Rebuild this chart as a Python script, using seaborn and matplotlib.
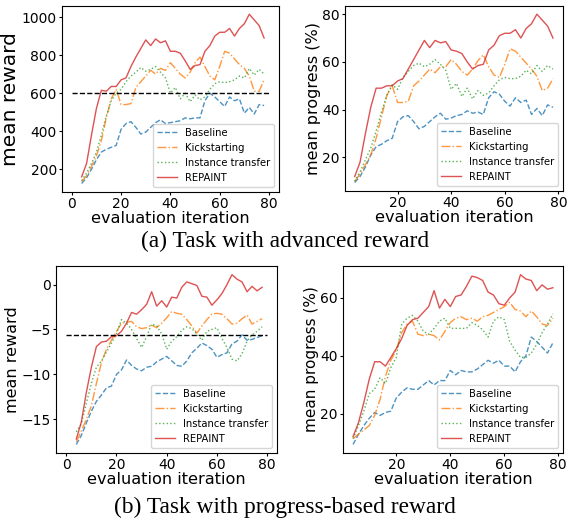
import numpy as np
import matplotlib
matplotlib.use("Agg")
import matplotlib.pyplot as plt
import pandas as pd
import seaborn as sns

# evaluation iterations (every 2nd one)
iters = list(range(4, 80, 2))

# (a) advanced reward -- mean reward
a_reward_baseline = [125, 155, 200, 250, 290, 305, 315, 325, 410, 440, 450, 420, 385, 395, 420, 445, 460, 440, 445,
                     450, 455, 470, 465, 470, 470, 560, 600, 580, 555, 530, 580, 560, 570, 495, 525, 490, 540, 535]
a_reward_kick = [135, 165, 215, 270, 350, 470, 570, 620, 540, 540, 545, 630, 660, 690, 720, 700, 730, 720, 760,
                 730, 700, 680, 710, 760, 790, 740, 690, 670, 740, 820, 810, 780, 750, 730, 690, 610, 610, 670]
a_reward_inst = [140, 180, 230, 290, 380, 480, 560, 600, 620, 660, 690, 710, 735, 715, 725, 740, 710, 680, 600,
                 630, 570, 600, 555, 590, 565, 580, 620, 650, 660, 655, 660, 670, 690, 680, 730, 695, 725, 700]
a_reward_repaint = [160, 230, 380, 520, 615, 610, 635, 635, 670, 680, 740, 790, 835, 880, 850, 885, 865, 875, 820,
                    820, 810, 770, 725, 745, 750, 820, 850, 900, 920, 920, 940, 900, 940, 965, 1015, 985, 955, 890]
a_reward_level = 600

# (a) advanced reward -- mean progress
a_prog_baseline = [9.5, 12, 16, 21, 24.5, 25.5, 27, 28, 35, 37, 37.5, 35, 32, 33, 35, 37, 38.5, 36, 36.5,
                   37.5, 38, 39.5, 38.5, 39, 38, 45, 47.5, 46.5, 43.5, 41.5, 45, 43, 44, 38, 40.5, 37.5, 42, 41]
a_prog_kick = [10, 13, 17, 21, 28, 37, 46, 50, 43, 43, 43.5, 50, 52, 54.5, 57, 55.5, 58, 58, 61,
               59, 56, 54.5, 57, 60.5, 63, 58, 54.5, 53.5, 59, 65.5, 64.5, 62, 59.5, 57, 54, 48, 49, 53]
a_prog_inst = [10, 14, 19, 24, 31, 39, 46, 50.5, 48.5, 53.5, 56, 58.5, 59.5, 58, 59, 61, 59, 56.5, 48.5,
               51, 45.5, 49, 44.5, 48, 46, 47, 50, 52.5, 53.5, 53, 53, 54, 56.5, 55, 58.5, 56, 58.5, 57]
a_prog_repaint = [12, 18, 30, 41, 49, 49, 50, 50, 52, 53, 57, 61, 65, 69, 66, 69, 68, 68.5, 65,
                  64.5, 63.5, 60, 57, 58.5, 59, 65, 67, 71, 72, 72, 73.5, 70, 74, 76, 80, 77.5, 75, 70]

# (b) progress-based reward -- mean reward
b_reward_baseline = [-17.8, -16.8, -15.4, -14.1, -13.0, -12.3, -11.5, -11.3, -10.0, -9.5, -8.4, -9.0, -9.4,
                     -9.6, -9.2, -9.1, -8.6, -8.3, -8.0, -8.5, -9.0, -9.1, -8.5, -7.6, -7.1, -6.5, -6.8,
                     -7.2, -8.1, -7.8, -7.6, -6.6, -6.3, -5.6, -6.2, -6.1, -5.9, -5.7]
b_reward_kick = [-17.5, -16.3, -15.0, -13.5, -11.0, -8.7, -7.2, -6.2, -5.2, -4.3, -4.2, -4.1, -4.7,
                 -4.9, -4.8, -4.5, -4.8, -4.3, -3.7, -3.0, -3.2, -3.3, -3.9, -4.6, -5.4, -4.6, -3.9,
                 -3.3, -3.2, -3.3, -3.8, -4.4, -4.3, -3.8, -3.4, -4.4, -4.1, -3.8]
b_reward_inst = [-16.4, -15.5, -13.2, -11.0, -9.2, -8.5, -7.5, -6.5, -5.5, -3.9, -4.3, -5.0, -6.0,
                 -7.0, -5.8, -4.4, -4.6, -5.5, -7.2, -6.3, -5.8, -5.1, -4.7, -4.9, -5.5, -6.2, -5.2,
                 -5.0, -4.8, -6.0, -7.0, -8.3, -8.5, -7.7, -6.3, -5.6, -5.2, -4.7]
b_reward_repaint = [-17.2, -15.3, -12.0, -9.2, -6.9, -6.4, -6.3, -5.8, -5.7, -5.2, -4.3, -3.1, -3.3,
                    -2.8, -2.2, -0.8, -2.4, -1.8, -2.5, -1.4, -1.5, -0.3, 0.3, 0.1, -0.1, -1.3, -1.4,
                    -2.3, -1.7, -1.0, 0.0, 1.1, 0.6, 0.3, -0.8, -0.2, -0.7, -0.3]
b_reward_level = -5.6

# (b) progress-based reward -- mean progress
b_prog_baseline = [9.5, 13, 16, 18.5, 20.5, 19.5, 20.5, 21, 25.5, 27.5, 29, 28.5, 28.5, 30, 31.5, 30, 31.5,
                   31.5, 35, 33.5, 35, 34.5, 34.5, 35.5, 37, 38.5, 37.5, 38.5, 36.5, 36.5, 34.5, 38, 40,
                   46.5, 45, 43, 41, 44.5]
b_prog_kick = [11.5, 13, 14.5, 16, 19.5, 25, 33, 38.5, 42, 48, 51, 52, 47.5, 47, 47.5, 47, 45.5, 48.5,
               51.5, 53, 53.5, 52.5, 53, 52, 53.5, 54, 55, 56, 57, 58.5, 56, 55.5, 53.5, 55.5, 53.5,
               51, 50.5, 53]
b_prog_inst = [11.5, 16, 21, 27, 28.5, 32.5, 30.5, 36, 39.5, 51, 53, 54, 52, 48.5, 47.5, 49.5, 52, 53,
               49.5, 49.5, 49.5, 49.5, 51.5, 50.5, 49, 46.5, 52, 53.5, 52.5, 45, 42, 39.5, 39.5, 41,
               44, 48, 51, 54.5]
b_prog_repaint = [12.2, 17, 24, 32, 38, 38, 36.5, 39.5, 42.5, 46, 50.5, 52.5, 53, 55, 57, 62.5, 56.5,
                  59.5, 57, 60.5, 61, 64, 67.5, 67, 66, 62, 61, 58, 57.5, 60, 62, 68, 66.5, 66, 62.5,
                  64.5, 63, 63.5]

methods = ["Baseline", "Kickstarting", "Instance transfer", "REPAINT"]
colors = ["#1f77b4", "#ff7f0e", "#2ca02c", "#d62728"]
styles = ["--", "-.", ":", "-"]


def panel(ax, series, ylabel, ylabel_size, level=None):
    for name, vals, c, ls in zip(methods, series, colors, styles):
        sns.lineplot(x=iters, y=vals, ax=ax, color=c, linestyle=ls, lw=1.0, alpha=0.8, label=name)
    if level is not None:
        ax.hlines(level, 0, 80, colors="black", linestyles="--", lw=1.0)
    ax.set_xlabel("evaluation iteration", fontsize=11.6, labelpad=0)
    ax.set_ylabel(ylabel, fontsize=ylabel_size, labelpad=1)
    ax.tick_params(labelsize=10, length=2.5, pad=1.2)
    ax.legend(loc="lower right", fontsize=7.2)


fig = plt.figure(figsize=(5.68, 5.23), dpi=100)
ax1 = fig.add_axes([0.109, 0.633, 0.382, 0.356])
ax2 = fig.add_axes([0.607, 0.635, 0.384, 0.354])
ax3 = fig.add_axes([0.099, 0.134, 0.389, 0.357])
ax4 = fig.add_axes([0.604, 0.134, 0.387, 0.357])

panel(ax1, [a_reward_baseline, a_reward_kick, a_reward_inst, a_reward_repaint], "mean reward", 14.5,
      a_reward_level)
panel(ax2, [a_prog_baseline, a_prog_kick, a_prog_inst, a_prog_repaint], "mean progress (%)", 11.5)
panel(ax3, [b_reward_baseline, b_reward_kick, b_reward_inst, b_reward_repaint], "mean reward", 11.5,
      b_reward_level)
panel(ax4, [b_prog_baseline, b_prog_kick, b_prog_inst, b_prog_repaint], "mean progress (%)", 11)

ax1.set_yticks([200, 400, 600, 800, 1000])
ax2.set_yticks([20, 40, 60, 80])
ax3.set_yticks([0, -5, -10, -15])
ax4.set_yticks([20, 40, 60])

fig.text(0.502, 0.539, "(a) Task with advanced reward", ha="center", va="center",
         family="Liberation Serif", fontsize=16.8)
fig.text(0.502, 0.029, "(b) Task with progress-based reward", ha="center", va="center",
         family="Liberation Serif", fontsize=16.8)

fig.savefig("out.png", dpi=100)
